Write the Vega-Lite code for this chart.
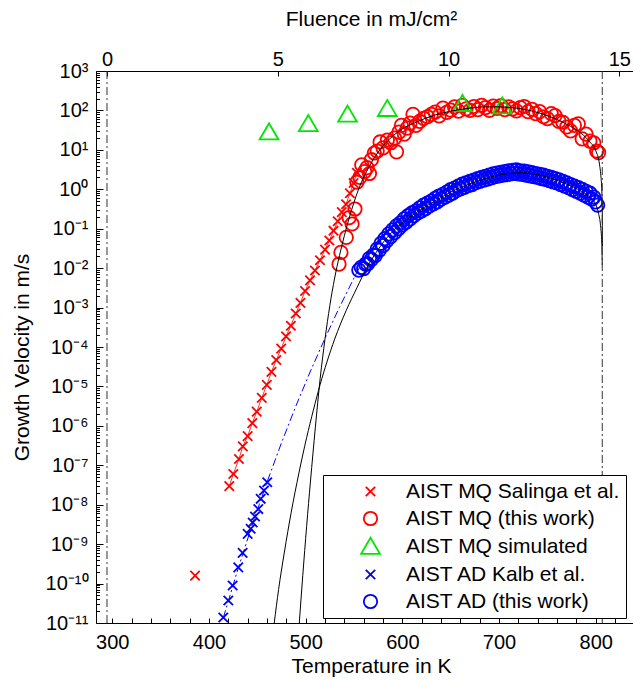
{
  "$schema": "https://vega.github.io/schema/vega-lite/v6.json",
  "width": 537,
  "height": 552,
  "autosize": {"type": "none"},
  "padding": {"left": 96, "top": 71, "right": 0, "bottom": 57},
  "background": "white",
  "config": {
    "font": "Liberation Sans",
    "view": {"stroke": null},
    "axis": {
      "grid": false,
      "domainColor": "black",
      "tickColor": "black",
      "labelColor": "black",
      "titleColor": "black",
      "labelFont": "Liberation Sans",
      "titleFont": "Liberation Sans",
      "labelFontSize": 20,
      "titleFontSize": 21,
      "titleFontWeight": "normal",
      "domainWidth": 1,
      "tickWidth": 1,
      "labelFlush": false,
      "labelOverlap": false,
      "labelBound": false
    },
    "legend": {
      "orient": "none",
      "legendX": 227,
      "legendY": 404,
      "strokeColor": "black",
      "fillColor": "white",
      "padding": 6,
      "labelFont": "Liberation Sans",
      "labelFontSize": 21,
      "labelColor": "black",
      "labelLimit": 400,
      "symbolSize": 180,
      "symbolStrokeWidth": 1.8,
      "rowPadding": 5,
      "symbolOffset": 31,
      "labelOffset": 25
    }
  },
  "datasets": {
    "pts": [
      {"series": "AIST MQ Salinga et al.", "T": 385.6, "v": 1.585e-10},
      {"series": "AIST MQ Salinga et al.", "T": 421.0, "v": 2.951e-8},
      {"series": "AIST MQ Salinga et al.", "T": 425.2, "v": 6.026e-8},
      {"series": "AIST MQ Salinga et al.", "T": 431.0, "v": 1.445e-7},
      {"series": "AIST MQ Salinga et al.", "T": 435.0, "v": 3.020e-7},
      {"series": "AIST MQ Salinga et al.", "T": 440.0, "v": 5.495e-7},
      {"series": "AIST MQ Salinga et al.", "T": 444.8, "v": 1.175e-6},
      {"series": "AIST MQ Salinga et al.", "T": 449.4, "v": 2.291e-6},
      {"series": "AIST MQ Salinga et al.", "T": 454.6, "v": 5.129e-6},
      {"series": "AIST MQ Salinga et al.", "T": 459.8, "v": 1.096e-5},
      {"series": "AIST MQ Salinga et al.", "T": 464.6, "v": 2.344e-5},
      {"series": "AIST MQ Salinga et al.", "T": 469.6, "v": 4.677e-5},
      {"series": "AIST MQ Salinga et al.", "T": 474.7, "v": 9.120e-5},
      {"series": "AIST MQ Salinga et al.", "T": 479.7, "v": 1.862e-4},
      {"series": "AIST MQ Salinga et al.", "T": 484.7, "v": 3.467e-4},
      {"series": "AIST MQ Salinga et al.", "T": 489.8, "v": 7.079e-4},
      {"series": "AIST MQ Salinga et al.", "T": 494.6, "v": 1.318e-3},
      {"series": "AIST MQ Salinga et al.", "T": 499.4, "v": 2.630e-3},
      {"series": "AIST MQ Salinga et al.", "T": 504.5, "v": 4.898e-3},
      {"series": "AIST MQ Salinga et al.", "T": 509.6, "v": 8.710e-3},
      {"series": "AIST MQ Salinga et al.", "T": 514.8, "v": 1.585e-2},
      {"series": "AIST MQ Salinga et al.", "T": 520.0, "v": 2.951e-2},
      {"series": "AIST MQ Salinga et al.", "T": 524.5, "v": 5.012e-2},
      {"series": "AIST MQ Salinga et al.", "T": 528.8, "v": 8.913e-2},
      {"series": "AIST MQ Salinga et al.", "T": 533.2, "v": 1.549e-1},
      {"series": "AIST MQ Salinga et al.", "T": 537.4, "v": 2.630e-1},
      {"series": "AIST MQ Salinga et al.", "T": 541.8, "v": 4.169e-1},
      {"series": "AIST MQ Salinga et al.", "T": 545.8, "v": 7.943e-1},
      {"series": "AIST MQ Salinga et al.", "T": 549.6, "v": 1.445},
      {"series": "AIST MQ Salinga et al.", "T": 553.0, "v": 2.630},

      {"series": "AIST MQ (this work)", "T": 534.5, "v": 1.259e-2},
      {"series": "AIST MQ (this work)", "T": 536.5, "v": 2.512e-2},
      {"series": "AIST MQ (this work)", "T": 542, "v": 6.026e-2},
      {"series": "AIST MQ (this work)", "T": 545, "v": 1.905e-1},
      {"series": "AIST MQ (this work)", "T": 548, "v": 1.318e-1},
      {"series": "AIST MQ (this work)", "T": 551, "v": 3.162e-1},
      {"series": "AIST MQ (this work)", "T": 553, "v": 1.514},
      {"series": "AIST MQ (this work)", "T": 556, "v": 1.995},
      {"series": "AIST MQ (this work)", "T": 558, "v": 4.169},
      {"series": "AIST MQ (this work)", "T": 561, "v": 2.818},
      {"series": "AIST MQ (this work)", "T": 563.5, "v": 3.548},
      {"series": "AIST MQ (this work)", "T": 566, "v": 2.512},
      {"series": "AIST MQ (this work)", "T": 568, "v": 5.623},
      {"series": "AIST MQ (this work)", "T": 571, "v": 8.318},
      {"series": "AIST MQ (this work)", "T": 574, "v": 9.333},
      {"series": "AIST MQ (this work)", "T": 577, "v": 15.85},
      {"series": "AIST MQ (this work)", "T": 580, "v": 11.22},
      {"series": "AIST MQ (this work)", "T": 584.5, "v": 17.78},
      {"series": "AIST MQ (this work)", "T": 588, "v": 15.14},
      {"series": "AIST MQ (this work)", "T": 592, "v": 19.95},
      {"series": "AIST MQ (this work)", "T": 594, "v": 8.913},
      {"series": "AIST MQ (this work)", "T": 596.5, "v": 28.18},
      {"series": "AIST MQ (this work)", "T": 599, "v": 41.69},
      {"series": "AIST MQ (this work)", "T": 602, "v": 25.12},
      {"series": "AIST MQ (this work)", "T": 605, "v": 35.48},
      {"series": "AIST MQ (this work)", "T": 608, "v": 47.86},
      {"series": "AIST MQ (this work)", "T": 611, "v": 79.43},
      {"series": "AIST MQ (this work)", "T": 614, "v": 41.69},
      {"series": "AIST MQ (this work)", "T": 618, "v": 52.48},
      {"series": "AIST MQ (this work)", "T": 622, "v": 63.10},
      {"series": "AIST MQ (this work)", "T": 626, "v": 69.18},
      {"series": "AIST MQ (this work)", "T": 630, "v": 79.43},
      {"series": "AIST MQ (this work)", "T": 634, "v": 91.20},
      {"series": "AIST MQ (this work)", "T": 638, "v": 72.44},
      {"series": "AIST MQ (this work)", "T": 642, "v": 114.8},
      {"series": "AIST MQ (this work)", "T": 646, "v": 89.13},
      {"series": "AIST MQ (this work)", "T": 650, "v": 102.3},
      {"series": "AIST MQ (this work)", "T": 654, "v": 123.0},
      {"series": "AIST MQ (this work)", "T": 658, "v": 95.50},
      {"series": "AIST MQ (this work)", "T": 662, "v": 134.9},
      {"series": "AIST MQ (this work)", "T": 666, "v": 109.6},
      {"series": "AIST MQ (this work)", "T": 670, "v": 100.0},
      {"series": "AIST MQ (this work)", "T": 674, "v": 125.9},
      {"series": "AIST MQ (this work)", "T": 678, "v": 104.7},
      {"series": "AIST MQ (this work)", "T": 682, "v": 134.9},
      {"series": "AIST MQ (this work)", "T": 686, "v": 117.5},
      {"series": "AIST MQ (this work)", "T": 690, "v": 100.0},
      {"series": "AIST MQ (this work)", "T": 694, "v": 128.8},
      {"series": "AIST MQ (this work)", "T": 698, "v": 112.2},
      {"series": "AIST MQ (this work)", "T": 702, "v": 131.8},
      {"series": "AIST MQ (this work)", "T": 706, "v": 104.7},
      {"series": "AIST MQ (this work)", "T": 710, "v": 123.0},
      {"series": "AIST MQ (this work)", "T": 714, "v": 109.6},
      {"series": "AIST MQ (this work)", "T": 718, "v": 97.72},
      {"series": "AIST MQ (this work)", "T": 722, "v": 117.5},
      {"series": "AIST MQ (this work)", "T": 726, "v": 125.9},
      {"series": "AIST MQ (this work)", "T": 730, "v": 93.33},
      {"series": "AIST MQ (this work)", "T": 734, "v": 107.2},
      {"series": "AIST MQ (this work)", "T": 738, "v": 83.18},
      {"series": "AIST MQ (this work)", "T": 742, "v": 93.33},
      {"series": "AIST MQ (this work)", "T": 746, "v": 69.18},
      {"series": "AIST MQ (this work)", "T": 750, "v": 61.66},
      {"series": "AIST MQ (this work)", "T": 754, "v": 83.18},
      {"series": "AIST MQ (this work)", "T": 758, "v": 74.13},
      {"series": "AIST MQ (this work)", "T": 762, "v": 52.48},
      {"series": "AIST MQ (this work)", "T": 766, "v": 50.12},
      {"series": "AIST MQ (this work)", "T": 770, "v": 38.02},
      {"series": "AIST MQ (this work)", "T": 774, "v": 30.20},
      {"series": "AIST MQ (this work)", "T": 778, "v": 41.69},
      {"series": "AIST MQ (this work)", "T": 782, "v": 45.71},
      {"series": "AIST MQ (this work)", "T": 786, "v": 19.05},
      {"series": "AIST MQ (this work)", "T": 790, "v": 25.12},
      {"series": "AIST MQ (this work)", "T": 794, "v": 16.60},
      {"series": "AIST MQ (this work)", "T": 798, "v": 15.14},
      {"series": "AIST MQ (this work)", "T": 801, "v": 9.333},
      {"series": "AIST MQ (this work)", "T": 803, "v": 8.511},

      {"series": "AIST AD Kalb et al.", "T": 414.8, "v": 1.380e-11},
      {"series": "AIST AD Kalb et al.", "T": 420.0, "v": 3.715e-11},
      {"series": "AIST AD Kalb et al.", "T": 424.5, "v": 8.913e-11},
      {"series": "AIST AD Kalb et al.", "T": 430.3, "v": 2.570e-10},
      {"series": "AIST AD Kalb et al.", "T": 434.8, "v": 6.026e-10},
      {"series": "AIST AD Kalb et al.", "T": 440.0, "v": 1.820e-9},
      {"series": "AIST AD Kalb et al.", "T": 443.1, "v": 2.455e-9},
      {"series": "AIST AD Kalb et al.", "T": 445.2, "v": 3.548e-9},
      {"series": "AIST AD Kalb et al.", "T": 447.6, "v": 5.012e-9},
      {"series": "AIST AD Kalb et al.", "T": 451.0, "v": 7.762e-9},
      {"series": "AIST AD Kalb et al.", "T": 453.5, "v": 1.413e-8},
      {"series": "AIST AD Kalb et al.", "T": 456.9, "v": 2.291e-8},
      {"series": "AIST AD Kalb et al.", "T": 460.3, "v": 3.715e-8},

      {"series": "AIST AD (this work)", "T": 555, "v": 8.913e-3},
      {"series": "AIST AD (this work)", "T": 557.5, "v": 1.047e-2},
      {"series": "AIST AD (this work)", "T": 560, "v": 9.772e-3},
      {"series": "AIST AD (this work)", "T": 562, "v": 1.259e-2},
      {"series": "AIST AD (this work)", "T": 564, "v": 1.288e-2},
      {"series": "AIST AD (this work)", "T": 566, "v": 1.778e-2},
      {"series": "AIST AD (this work)", "T": 568, "v": 1.660e-2},
      {"series": "AIST AD (this work)", "T": 570, "v": 2.138e-2},
      {"series": "AIST AD (this work)", "T": 572, "v": 2.089e-2},
      {"series": "AIST AD (this work)", "T": 574, "v": 3.020e-2},
      {"series": "AIST AD (this work)", "T": 576, "v": 2.818e-2},
      {"series": "AIST AD (this work)", "T": 578, "v": 4.266e-2},
      {"series": "AIST AD (this work)", "T": 580, "v": 3.715e-2},
      {"series": "AIST AD (this work)", "T": 582, "v": 5.623e-2},
      {"series": "AIST AD (this work)", "T": 584, "v": 5.012e-2},
      {"series": "AIST AD (this work)", "T": 586, "v": 7.413e-2},
      {"series": "AIST AD (this work)", "T": 588, "v": 6.310e-2},
      {"series": "AIST AD (this work)", "T": 590, "v": 9.333e-2},
      {"series": "AIST AD (this work)", "T": 592, "v": 7.943e-2},
      {"series": "AIST AD (this work)", "T": 594, "v": 1.175e-1},
      {"series": "AIST AD (this work)", "T": 596, "v": 1.000e-1},
      {"series": "AIST AD (this work)", "T": 598, "v": 1.413e-1},
      {"series": "AIST AD (this work)", "T": 600, "v": 1.259e-1},
      {"series": "AIST AD (this work)", "T": 602, "v": 1.778e-1},
      {"series": "AIST AD (this work)", "T": 604, "v": 1.479e-1},
      {"series": "AIST AD (this work)", "T": 606, "v": 2.138e-1},
      {"series": "AIST AD (this work)", "T": 608, "v": 1.778e-1},
      {"series": "AIST AD (this work)", "T": 610, "v": 2.512e-1},
      {"series": "AIST AD (this work)", "T": 612, "v": 2.138e-1},
      {"series": "AIST AD (this work)", "T": 614, "v": 2.818e-1},
      {"series": "AIST AD (this work)", "T": 616, "v": 2.512e-1},
      {"series": "AIST AD (this work)", "T": 618, "v": 3.388e-1},
      {"series": "AIST AD (this work)", "T": 620, "v": 2.818e-1},
      {"series": "AIST AD (this work)", "T": 622, "v": 3.981e-1},
      {"series": "AIST AD (this work)", "T": 624, "v": 3.236e-1},
      {"series": "AIST AD (this work)", "T": 626, "v": 4.467e-1},
      {"series": "AIST AD (this work)", "T": 628, "v": 3.802e-1},
      {"series": "AIST AD (this work)", "T": 630, "v": 5.012e-1},
      {"series": "AIST AD (this work)", "T": 632, "v": 4.266e-1},
      {"series": "AIST AD (this work)", "T": 634, "v": 5.888e-1},
      {"series": "AIST AD (this work)", "T": 636, "v": 4.786e-1},
      {"series": "AIST AD (this work)", "T": 638, "v": 6.761e-1},
      {"series": "AIST AD (this work)", "T": 640, "v": 5.623e-1},
      {"series": "AIST AD (this work)", "T": 642, "v": 7.413e-1},
      {"series": "AIST AD (this work)", "T": 644, "v": 6.310e-1},
      {"series": "AIST AD (this work)", "T": 646, "v": 8.511e-1},
      {"series": "AIST AD (this work)", "T": 648, "v": 7.079e-1},
      {"series": "AIST AD (this work)", "T": 650, "v": 9.772e-1},
      {"series": "AIST AD (this work)", "T": 652, "v": 7.943e-1},
      {"series": "AIST AD (this work)", "T": 654, "v": 1.072},
      {"series": "AIST AD (this work)", "T": 656, "v": 9.333e-1},
      {"series": "AIST AD (this work)", "T": 658, "v": 1.202},
      {"series": "AIST AD (this work)", "T": 660, "v": 1.023},
      {"series": "AIST AD (this work)", "T": 662, "v": 1.349},
      {"series": "AIST AD (this work)", "T": 664, "v": 1.122},
      {"series": "AIST AD (this work)", "T": 666, "v": 1.445},
      {"series": "AIST AD (this work)", "T": 668, "v": 1.230},
      {"series": "AIST AD (this work)", "T": 670, "v": 1.585},
      {"series": "AIST AD (this work)", "T": 672, "v": 1.318},
      {"series": "AIST AD (this work)", "T": 674, "v": 1.698},
      {"series": "AIST AD (this work)", "T": 676, "v": 1.479},
      {"series": "AIST AD (this work)", "T": 678, "v": 1.862},
      {"series": "AIST AD (this work)", "T": 680, "v": 1.585},
      {"series": "AIST AD (this work)", "T": 682, "v": 1.995},
      {"series": "AIST AD (this work)", "T": 684, "v": 1.698},
      {"series": "AIST AD (this work)", "T": 686, "v": 2.138},
      {"series": "AIST AD (this work)", "T": 688, "v": 1.820},
      {"series": "AIST AD (this work)", "T": 690, "v": 2.291},
      {"series": "AIST AD (this work)", "T": 692, "v": 1.950},
      {"series": "AIST AD (this work)", "T": 694, "v": 2.455},
      {"series": "AIST AD (this work)", "T": 696, "v": 2.089},
      {"series": "AIST AD (this work)", "T": 698, "v": 2.570},
      {"series": "AIST AD (this work)", "T": 700, "v": 2.188},
      {"series": "AIST AD (this work)", "T": 702, "v": 2.692},
      {"series": "AIST AD (this work)", "T": 704, "v": 2.291},
      {"series": "AIST AD (this work)", "T": 706, "v": 2.818},
      {"series": "AIST AD (this work)", "T": 708, "v": 2.344},
      {"series": "AIST AD (this work)", "T": 710, "v": 2.951},
      {"series": "AIST AD (this work)", "T": 712, "v": 2.455},
      {"series": "AIST AD (this work)", "T": 714, "v": 3.020},
      {"series": "AIST AD (this work)", "T": 716, "v": 2.512},
      {"series": "AIST AD (this work)", "T": 718, "v": 3.090},
      {"series": "AIST AD (this work)", "T": 720, "v": 2.455},
      {"series": "AIST AD (this work)", "T": 722, "v": 2.951},
      {"series": "AIST AD (this work)", "T": 724, "v": 2.399},
      {"series": "AIST AD (this work)", "T": 726, "v": 2.884},
      {"series": "AIST AD (this work)", "T": 728, "v": 2.291},
      {"series": "AIST AD (this work)", "T": 730, "v": 2.754},
      {"series": "AIST AD (this work)", "T": 732, "v": 2.188},
      {"series": "AIST AD (this work)", "T": 734, "v": 2.630},
      {"series": "AIST AD (this work)", "T": 736, "v": 2.089},
      {"series": "AIST AD (this work)", "T": 738, "v": 2.512},
      {"series": "AIST AD (this work)", "T": 740, "v": 1.995},
      {"series": "AIST AD (this work)", "T": 742, "v": 2.399},
      {"series": "AIST AD (this work)", "T": 744, "v": 1.862},
      {"series": "AIST AD (this work)", "T": 746, "v": 2.291},
      {"series": "AIST AD (this work)", "T": 748, "v": 1.778},
      {"series": "AIST AD (this work)", "T": 750, "v": 2.138},
      {"series": "AIST AD (this work)", "T": 752, "v": 1.660},
      {"series": "AIST AD (this work)", "T": 754, "v": 1.995},
      {"series": "AIST AD (this work)", "T": 756, "v": 1.549},
      {"series": "AIST AD (this work)", "T": 758, "v": 1.862},
      {"series": "AIST AD (this work)", "T": 760, "v": 1.445},
      {"series": "AIST AD (this work)", "T": 762, "v": 1.738},
      {"series": "AIST AD (this work)", "T": 764, "v": 1.318},
      {"series": "AIST AD (this work)", "T": 766, "v": 1.585},
      {"series": "AIST AD (this work)", "T": 768, "v": 1.202},
      {"series": "AIST AD (this work)", "T": 770, "v": 1.445},
      {"series": "AIST AD (this work)", "T": 772, "v": 1.096},
      {"series": "AIST AD (this work)", "T": 774, "v": 1.318},
      {"series": "AIST AD (this work)", "T": 776, "v": 9.772e-1},
      {"series": "AIST AD (this work)", "T": 778, "v": 1.202},
      {"series": "AIST AD (this work)", "T": 780, "v": 8.913e-1},
      {"series": "AIST AD (this work)", "T": 782, "v": 1.096},
      {"series": "AIST AD (this work)", "T": 784, "v": 7.943e-1},
      {"series": "AIST AD (this work)", "T": 786, "v": 1.000},
      {"series": "AIST AD (this work)", "T": 788, "v": 7.079e-1},
      {"series": "AIST AD (this work)", "T": 790, "v": 8.913e-1},
      {"series": "AIST AD (this work)", "T": 792, "v": 6.310e-1},
      {"series": "AIST AD (this work)", "T": 794, "v": 7.943e-1},
      {"series": "AIST AD (this work)", "T": 796, "v": 5.623e-1},
      {"series": "AIST AD (this work)", "T": 798, "v": 6.310e-1},
      {"series": "AIST AD (this work)", "T": 800, "v": 4.786e-1},
      {"series": "AIST AD (this work)", "T": 802, "v": 3.981e-1},

      {"series": "AIST MQ simulated", "T": 462.1, "v": 28.3},
      {"series": "AIST MQ simulated", "T": 502.7, "v": 46.2},
      {"series": "AIST MQ simulated", "T": 543.3, "v": 79.6},
      {"series": "AIST MQ simulated", "T": 584.4, "v": 111},
      {"series": "AIST MQ simulated", "T": 662.2, "v": 149},
      {"series": "AIST MQ simulated", "T": 703.4, "v": 129}
    ],
    "fits": [
      {"fit": "MQ", "T": 493.4, "v": 1e-11},
      {"fit": "MQ", "T": 497, "v": 1.585e-10},
      {"fit": "MQ", "T": 501, "v": 2.818e-9},
      {"fit": "MQ", "T": 505, "v": 3.981e-8},
      {"fit": "MQ", "T": 510, "v": 8.913e-7},
      {"fit": "MQ", "T": 515, "v": 1.585e-5},
      {"fit": "MQ", "T": 520, "v": 1.585e-4},
      {"fit": "MQ", "T": 525, "v": 1.122e-3},
      {"fit": "MQ", "T": 530, "v": 5.623e-3},
      {"fit": "MQ", "T": 535, "v": 2.089e-2},
      {"fit": "MQ", "T": 540, "v": 6.607e-2},
      {"fit": "MQ", "T": 545, "v": 1.862e-1},
      {"fit": "MQ", "T": 550, "v": 4.677e-1},
      {"fit": "MQ", "T": 556, "v": 1.202},
      {"fit": "MQ", "T": 563, "v": 2.818},
      {"fit": "MQ", "T": 570, "v": 5.754},
      {"fit": "MQ", "T": 577, "v": 10.23},
      {"fit": "MQ", "T": 587, "v": 19.05},
      {"fit": "MQ", "T": 598, "v": 31.62},
      {"fit": "MQ", "T": 615, "v": 51.29},
      {"fit": "MQ", "T": 632, "v": 74.13},
      {"fit": "MQ", "T": 650, "v": 95.50},
      {"fit": "MQ", "T": 667, "v": 112.2},
      {"fit": "MQ", "T": 685, "v": 123.0},
      {"fit": "MQ", "T": 701, "v": 123.0},
      {"fit": "MQ", "T": 718, "v": 114.8},
      {"fit": "MQ", "T": 735, "v": 95.50},
      {"fit": "MQ", "T": 752, "v": 70.79},
      {"fit": "MQ", "T": 770, "v": 44.67},
      {"fit": "MQ", "T": 785, "v": 26.30},
      {"fit": "MQ", "T": 794, "v": 15.85},
      {"fit": "MQ", "T": 800, "v": 9.550},
      {"fit": "MQ", "T": 804, "v": 4.169},
      {"fit": "MQ", "T": 805.5, "v": 1.995},
      {"fit": "MQ", "T": 806.3, "v": 0.955},
      {"fit": "MQ", "T": 806.8, "v": 0.27},
      {"fit": "MQ", "T": 806.97, "v": 0.0355},
      {"fit": "AD", "T": 467.5, "v": 1e-11},
      {"fit": "AD", "T": 472, "v": 7.079e-11},
      {"fit": "AD", "T": 478, "v": 6.310e-10},
      {"fit": "AD", "T": 485, "v": 6.310e-9},
      {"fit": "AD", "T": 493, "v": 6.310e-8},
      {"fit": "AD", "T": 501, "v": 5.012e-7},
      {"fit": "AD", "T": 508, "v": 2.512e-6},
      {"fit": "AD", "T": 515, "v": 1.122e-5},
      {"fit": "AD", "T": 522, "v": 4.169e-5},
      {"fit": "AD", "T": 530, "v": 1.585e-4},
      {"fit": "AD", "T": 542, "v": 8.511e-4},
      {"fit": "AD", "T": 553, "v": 3.162e-3},
      {"fit": "AD", "T": 563, "v": 1.0e-2},
      {"fit": "AD", "T": 573, "v": 2.512e-2},
      {"fit": "AD", "T": 585, "v": 6.310e-2},
      {"fit": "AD", "T": 600, "v": 1.413e-1},
      {"fit": "AD", "T": 620, "v": 3.162e-1},
      {"fit": "AD", "T": 635, "v": 5.248e-1},
      {"fit": "AD", "T": 650, "v": 8.511e-1},
      {"fit": "AD", "T": 670, "v": 1.380},
      {"fit": "AD", "T": 690, "v": 1.995},
      {"fit": "AD", "T": 710, "v": 2.512},
      {"fit": "AD", "T": 725, "v": 2.630},
      {"fit": "AD", "T": 740, "v": 2.344},
      {"fit": "AD", "T": 755, "v": 1.862},
      {"fit": "AD", "T": 770, "v": 1.349},
      {"fit": "AD", "T": 785, "v": 0.8913},
      {"fit": "AD", "T": 795, "v": 0.6026},
      {"fit": "AD", "T": 800, "v": 0.4169},
      {"fit": "AD", "T": 803, "v": 0.2399},
      {"fit": "AD", "T": 805, "v": 0.1202},
      {"fit": "AD", "T": 806.3, "v": 0.0417},
      {"fit": "AD", "T": 806.8, "v": 0.0120}
    ],
    "kalb": [
      {"T": 414.8, "v": 1.349e-11},
      {"T": 430, "v": 2.344e-10},
      {"T": 445, "v": 3.236e-9},
      {"T": 460, "v": 3.715e-8},
      {"T": 475, "v": 3.715e-7},
      {"T": 490, "v": 3.236e-6},
      {"T": 505, "v": 2.455e-5},
      {"T": 520, "v": 1.660e-4},
      {"T": 535, "v": 1.023e-3},
      {"T": 550, "v": 5.623e-3},
      {"T": 556, "v": 1.096e-2}
    ],
    "rules": [
      {"F": 0},
      {"F": 14.5}
    ]
  },
  "layer": [
    {
      "encoding": {
        "x": {
          "field": "T", "type": "quantitative",
          "scale": {"domain": [283.14, 838.58], "nice": false, "zero": false},
          "axis": {
            "title": "Temperature in K",
            "values": [300, 320, 340, 360, 380, 400, 420, 440, 460, 480, 500, 520, 540, 560, 580, 600, 620, 640, 660, 680, 700, 720, 740, 760, 780, 800, 820],
            "labelExpr": "datum.value % 100 == 0 ? datum.value : ''",
            "tickSize": -5,
            "labelPadding": 14,
            "titleX": 275,
            "titleY": 43,
            "titleBaseline": "middle"
          }
        },
        "y": {
          "field": "v", "type": "quantitative",
          "scale": {"type": "log", "domain": [1e-11, 1000], "nice": false},
          "axis": {
            "title": "Growth Velocity in m/s",
            "values": [1e-11, 2e-11, 3e-11, 4e-11, 5e-11, 6e-11, 7e-11, 8e-11, 9e-11,
                       1e-10, 2e-10, 3e-10, 4e-10, 5e-10, 6e-10, 7e-10, 8e-10, 9e-10,
                       1e-9, 2e-9, 3e-9, 4e-9, 5e-9, 6e-9, 7e-9, 8e-9, 9e-9,
                       1e-8, 2e-8, 3e-8, 4e-8, 5e-8, 6e-8, 7e-8, 8e-8, 9e-8,
                       1e-7, 2e-7, 3e-7, 4e-7, 5e-7, 6e-7, 7e-7, 8e-7, 9e-7,
                       1e-6, 2e-6, 3e-6, 4e-6, 5e-6, 6e-6, 7e-6, 8e-6, 9e-6,
                       1e-5, 2e-5, 3e-5, 4e-5, 5e-5, 6e-5, 7e-5, 8e-5, 9e-5,
                       1e-4, 2e-4, 3e-4, 4e-4, 5e-4, 6e-4, 7e-4, 8e-4, 9e-4,
                       1e-3, 2e-3, 3e-3, 4e-3, 5e-3, 6e-3, 7e-3, 8e-3, 9e-3,
                       0.01, 0.02, 0.03, 0.04, 0.05, 0.06, 0.07, 0.08, 0.09,
                       0.1, 0.2, 0.3, 0.4, 0.5, 0.6, 0.7, 0.8, 0.9,
                       1, 2, 3, 4, 5, 6, 7, 8, 9,
                       10, 20, 30, 40, 50, 60, 70, 80, 90,
                       100, 200, 300, 400, 500, 600, 700, 800, 900, 1000],
            "labelExpr": "abs(log(datum.value)/LN10 - round(log(datum.value)/LN10)) < 0.001 ? '10' + ['⁻¹¹','⁻¹⁰','⁻⁹','⁻⁸','⁻⁷','⁻⁶','⁻⁵','⁻⁴','⁻³','⁻²','⁻¹','⁰','¹','²','³'][round(log(datum.value)/LN10) + 11] : ''",
            "tickSize": {"condition": {"test": "abs(log(datum.value)/LN10 - round(log(datum.value)/LN10)) < 0.001", "value": -7}, "value": -3.5},
            "labelPadding": 15,
            "titleX": -74,
            "titleY": 286,
            "titleAngle": -90,
            "titleBaseline": "middle"
          }
        }
      },
      "layer": [
        {
          "data": {"name": "pts"},
          "transform": [{"filter": "datum.series == 'AIST MQ Salinga et al.' && datum.T > 400"}],
          "mark": {"type": "line", "color": "#ff0000", "strokeWidth": 0.8, "clip": true}
        },
        {
          "data": {"name": "kalb"},
          "mark": {"type": "line", "color": "#0000ff", "strokeWidth": 1, "strokeDash": [8, 3, 2, 3], "clip": true}
        },
        {
          "data": {"name": "pts"},
          "mark": {"type": "point", "filled": false, "strokeWidth": 1.8, "size": 180, "opacity": 1, "clip": true},
          "encoding": {
            "color": {
              "field": "series", "type": "nominal",
              "scale": {
                "domain": ["AIST MQ Salinga et al.", "AIST MQ (this work)", "AIST MQ simulated", "AIST AD Kalb et al.", "AIST AD (this work)"],
                "range": ["#ff0000", "#ff0000", "#00e600", "#0000ff", "#0000ff"]
              },
              "legend": {"title": null}
            },
            "shape": {
              "field": "series", "type": "nominal",
              "scale": {
                "domain": ["AIST MQ Salinga et al.", "AIST MQ (this work)", "AIST MQ simulated", "AIST AD Kalb et al.", "AIST AD (this work)"],
                "range": ["M-0.7,-0.7L0.7,0.7M-0.7,0.7L0.7,-0.7", "circle", "M0,-1.3L1.4,1.1L-1.4,1.1Z", "M-0.7,-0.7L0.7,0.7M-0.7,0.7L0.7,-0.7", "circle"]
              },
              "legend": {"title": null}
            }
          }
        },
        {
          "data": {"name": "fits"},
          "mark": {"type": "line", "color": "black", "strokeWidth": 1, "interpolate": "monotone", "clip": true},
          "encoding": {
            "detail": {"field": "fit", "type": "nominal"}
          }
        }
      ]
    },
    {
      "data": {"name": "rules"},
      "mark": {"type": "rule", "color": "#333333", "strokeWidth": 1, "strokeDash": [8, 3, 2, 3]},
      "encoding": {
        "x": {
          "field": "F", "type": "quantitative",
          "scale": {"domain": [-0.322, 15.40], "nice": false, "zero": false},
          "axis": {
            "orient": "top",
            "title": "Fluence in mJ/cm²",
            "values": [0, 5, 10, 15],
            "tickSize": -5,
            "labelPadding": 7,
            "titleX": 275,
            "titleY": -52,
            "titleBaseline": "middle"
          }
        }
      }
    }
  ],
  "resolve": {"scale": {"x": "independent"}, "axis": {"x": "independent"}}
}
